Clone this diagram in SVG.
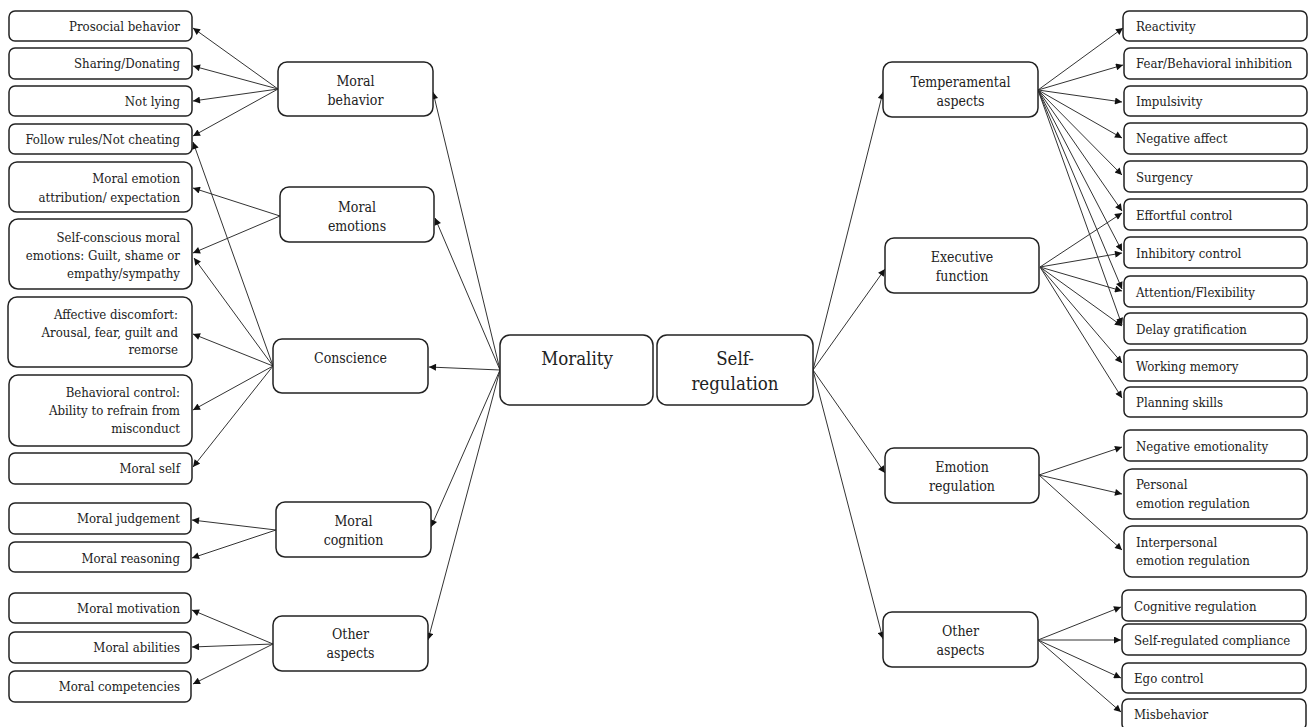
<svg xmlns="http://www.w3.org/2000/svg" width="1309" height="727" viewBox="0 0 1309 727">
<style>
text{fill:#222;font-family:"DejaVu Serif Condensed","DejaVu Serif",serif;font-stretch:condensed}
.box{fill:#fff;stroke:#222;stroke-width:1.5}
.t{font-size:13.1px}
.m{font-size:14px;text-anchor:middle}
.c{font-size:18.5px;text-anchor:middle}
.e{text-anchor:end}
.con line{stroke:#333;stroke-width:1;marker-end:url(#ah)}
</style>
<defs>
<marker id="ah" viewBox="0 0 10 10" refX="10" refY="5" markerWidth="9" markerHeight="7" markerUnits="userSpaceOnUse" orient="auto"><path d="M0,0 L10,5 L0,10 z" fill="#111"/></marker>
</defs>
<rect width="1309" height="727" fill="#fff"/>

<g id="connectors" class="con">
<line x1="500" y1="370" x2="433" y2="92"/>
<line x1="500" y1="370" x2="435" y2="218"/>
<line x1="500" y1="370" x2="429" y2="367"/>
<line x1="500" y1="370" x2="431" y2="527"/>
<line x1="500" y1="370" x2="428" y2="640"/>
<line x1="278" y1="89" x2="193" y2="28"/>
<line x1="278" y1="89" x2="193" y2="66"/>
<line x1="278" y1="89" x2="193" y2="101"/>
<line x1="278" y1="89" x2="193" y2="136"/>
<line x1="280" y1="216" x2="193" y2="188"/>
<line x1="280" y1="216" x2="193" y2="253"/>
<line x1="273" y1="366" x2="193" y2="142"/>
<line x1="273" y1="366" x2="194" y2="258"/>
<line x1="273" y1="366" x2="193" y2="334"/>
<line x1="273" y1="366" x2="193" y2="410"/>
<line x1="273" y1="366" x2="193" y2="467"/>
<line x1="276" y1="530" x2="192" y2="520"/>
<line x1="276" y1="530" x2="192" y2="558"/>
<line x1="273" y1="644" x2="192" y2="610"/>
<line x1="273" y1="644" x2="192" y2="647"/>
<line x1="273" y1="644" x2="193" y2="684"/>
<line x1="813" y1="370" x2="883" y2="92"/>
<line x1="813" y1="370" x2="885" y2="269"/>
<line x1="813" y1="370" x2="885" y2="473"/>
<line x1="813" y1="370" x2="883" y2="639"/>
<line x1="1038" y1="90" x2="1123" y2="28"/>
<line x1="1038" y1="90" x2="1123" y2="65"/>
<line x1="1038" y1="90" x2="1122" y2="102"/>
<line x1="1038" y1="90" x2="1122" y2="138"/>
<line x1="1038" y1="90" x2="1122" y2="175"/>
<line x1="1038" y1="90" x2="1122" y2="211"/>
<line x1="1038" y1="90" x2="1122" y2="251"/>
<line x1="1038" y1="90" x2="1122" y2="289"/>
<line x1="1038" y1="90" x2="1122" y2="325"/>
<line x1="1040" y1="267" x2="1122" y2="213"/>
<line x1="1040" y1="267" x2="1122" y2="253"/>
<line x1="1040" y1="267" x2="1122" y2="291"/>
<line x1="1040" y1="267" x2="1122" y2="326"/>
<line x1="1040" y1="267" x2="1122" y2="363"/>
<line x1="1040" y1="267" x2="1122" y2="398"/>
<line x1="1039" y1="475" x2="1122" y2="447"/>
<line x1="1039" y1="475" x2="1122" y2="494"/>
<line x1="1039" y1="475" x2="1122" y2="550"/>
<line x1="1038" y1="640" x2="1121" y2="607"/>
<line x1="1038" y1="640" x2="1121" y2="640"/>
<line x1="1038" y1="640" x2="1121" y2="678"/>
<line x1="1038" y1="640" x2="1121" y2="712"/>
</g>

<g id="morality"><rect class="box" x="500" y="335" width="153" height="70" rx="10"/><text class="c" x="577" y="365">Morality</text></g>
<g id="selfregulation"><rect class="box" x="657" y="335" width="156" height="70" rx="10"/><text class="c" x="735" y="365">Self-</text><text class="c" x="735" y="390">regulation</text></g>

<g id="moral-behavior"><rect class="box" x="278" y="62" width="155" height="54" rx="9"/><text class="m" x="355.5" y="86">Moral</text><text class="m" x="355.5" y="105">behavior</text></g>
<g id="moral-emotions"><rect class="box" x="280" y="187" width="154" height="55" rx="9"/><text class="m" x="357" y="212">Moral</text><text class="m" x="357" y="231">emotions</text></g>
<g id="conscience"><rect class="box" x="273" y="339" width="155" height="54" rx="9"/><text class="m" x="350.5" y="363">Conscience</text></g>
<g id="moral-cognition"><rect class="box" x="276" y="502" width="155" height="55" rx="9"/><text class="m" x="353.5" y="526">Moral</text><text class="m" x="353.5" y="545">cognition</text></g>
<g id="other-aspects-left"><rect class="box" x="273" y="616" width="155" height="55" rx="9"/><text class="m" x="350.5" y="639">Other</text><text class="m" x="350.5" y="658">aspects</text></g>
<g id="temperamental"><rect class="box" x="883" y="62" width="155" height="55" rx="9"/><text class="m" x="960.5" y="87">Temperamental</text><text class="m" x="960.5" y="106">aspects</text></g>
<g id="executive"><rect class="box" x="885" y="238" width="154" height="55" rx="9"/><text class="m" x="962" y="262">Executive</text><text class="m" x="962" y="281">function</text></g>
<g id="emotion-regulation"><rect class="box" x="885" y="448" width="154" height="55" rx="9"/><text class="m" x="962" y="472">Emotion</text><text class="m" x="962" y="491">regulation</text></g>
<g id="other-aspects-right"><rect class="box" x="883" y="612" width="155" height="55" rx="9"/><text class="m" x="960.5" y="636">Other</text><text class="m" x="960.5" y="655">aspects</text></g>

<g id="l-prosocial"><rect class="box" x="9" y="11" width="183" height="30" rx="6"/><text class="t e" x="180" y="31">Prosocial behavior</text></g>
<g id="l-sharing"><rect class="box" x="9" y="48" width="183" height="31" rx="6"/><text class="t e" x="180" y="68">Sharing/Donating</text></g>
<g id="l-notlying"><rect class="box" x="9" y="86" width="183" height="30" rx="6"/><text class="t e" x="180" y="106">Not lying</text></g>
<g id="l-follow"><rect class="box" x="9" y="124" width="183" height="30" rx="6"/><text class="t e" x="180" y="144">Follow rules/Not cheating</text></g>
<g id="l-attribution"><rect class="box" x="9" y="162" width="183" height="50" rx="8"/><text class="t e" x="180" y="183">Moral emotion</text><text class="t e" x="180" y="202">attribution/ expectation</text></g>
<g id="l-selfconscious"><rect class="box" x="9" y="219" width="183" height="70" rx="9"/><text class="t e" x="180" y="242">Self-conscious moral</text><text class="t e" x="180" y="260">emotions: Guilt, shame or</text><text class="t e" x="180" y="278">empathy/sympathy</text></g>
<g id="l-affective"><rect class="box" x="8" y="297" width="184" height="70" rx="9"/><text class="t e" x="178" y="319">Affective discomfort:</text><text class="t e" x="178" y="337">Arousal, fear, guilt and</text><text class="t e" x="178" y="354">remorse</text></g>
<g id="l-behavioral"><rect class="box" x="9" y="375" width="183" height="71" rx="9"/><text class="t e" x="180" y="397">Behavioral control:</text><text class="t e" x="180" y="415">Ability to refrain from</text><text class="t e" x="180" y="433">misconduct</text></g>
<g id="l-moralself"><rect class="box" x="9" y="453" width="183" height="31" rx="6"/><text class="t e" x="180" y="473">Moral self</text></g>
<g id="l-judgement"><rect class="box" x="9" y="503" width="182" height="31" rx="6"/><text class="t e" x="180" y="523">Moral judgement</text></g>
<g id="l-reasoning"><rect class="box" x="9" y="542" width="182" height="30" rx="6"/><text class="t e" x="180" y="563">Moral reasoning</text></g>
<g id="l-motivation"><rect class="box" x="9" y="593" width="182" height="30" rx="6"/><text class="t e" x="180" y="613">Moral motivation</text></g>
<g id="l-abilities"><rect class="box" x="9" y="632" width="182" height="31" rx="6"/><text class="t e" x="180" y="652">Moral abilities</text></g>
<g id="l-competencies"><rect class="box" x="9" y="671" width="182" height="31" rx="6"/><text class="t e" x="180" y="691">Moral competencies</text></g>

<g id="r-reactivity"><rect class="box" x="1123" y="11" width="184" height="30" rx="6"/><text class="t" x="1136" y="31">Reactivity</text></g>
<g id="r-fear"><rect class="box" x="1124" y="48" width="183" height="31" rx="6"/><text class="t" x="1136" y="68">Fear/Behavioral inhibition</text></g>
<g id="r-impulsivity"><rect class="box" x="1124" y="86" width="183" height="30" rx="6"/><text class="t" x="1136" y="106">Impulsivity</text></g>
<g id="r-negaffect"><rect class="box" x="1124" y="123" width="183" height="31" rx="6"/><text class="t" x="1136" y="143">Negative affect</text></g>
<g id="r-surgency"><rect class="box" x="1124" y="161" width="183" height="31" rx="6"/><text class="t" x="1136" y="182">Surgency</text></g>
<g id="r-effortful"><rect class="box" x="1124" y="199" width="183" height="31" rx="6"/><text class="t" x="1136" y="220">Effortful control</text></g>
<g id="r-inhibitory"><rect class="box" x="1124" y="237" width="183" height="31" rx="6"/><text class="t" x="1136" y="258">Inhibitory control</text></g>
<g id="r-attention"><rect class="box" x="1124" y="276" width="183" height="31" rx="6"/><text class="t" x="1136" y="297">Attention/Flexibility</text></g>
<g id="r-delay"><rect class="box" x="1124" y="313" width="183" height="31" rx="6"/><text class="t" x="1136" y="334">Delay gratification</text></g>
<g id="r-working"><rect class="box" x="1124" y="350" width="183" height="31" rx="6"/><text class="t" x="1136" y="371">Working memory</text></g>
<g id="r-planning"><rect class="box" x="1124" y="387" width="183" height="30" rx="6"/><text class="t" x="1136" y="407">Planning skills</text></g>
<g id="r-negemotionality"><rect class="box" x="1124" y="430" width="183" height="31" rx="6"/><text class="t" x="1136" y="451">Negative emotionality</text></g>
<g id="r-personal"><rect class="box" x="1124" y="469" width="183" height="50" rx="8"/><text class="t" x="1136" y="489">Personal</text><text class="t" x="1136" y="508">emotion regulation</text></g>
<g id="r-interpersonal"><rect class="box" x="1124" y="526" width="183" height="51" rx="8"/><text class="t" x="1136" y="547">Interpersonal</text><text class="t" x="1136" y="565">emotion regulation</text></g>
<g id="r-cognitive"><rect class="box" x="1122" y="590" width="184" height="31" rx="6"/><text class="t" x="1134" y="611">Cognitive regulation</text></g>
<g id="r-compliance"><rect class="box" x="1122" y="624" width="184" height="31" rx="6"/><text class="t" x="1134" y="645">Self-regulated compliance</text></g>
<g id="r-ego"><rect class="box" x="1122" y="663" width="184" height="30" rx="6"/><text class="t" x="1134" y="683">Ego control</text></g>
<g id="r-misbehavior"><rect class="box" x="1122" y="699" width="184" height="31" rx="6"/><text class="t" x="1134" y="719">Misbehavior</text></g>
</svg>
